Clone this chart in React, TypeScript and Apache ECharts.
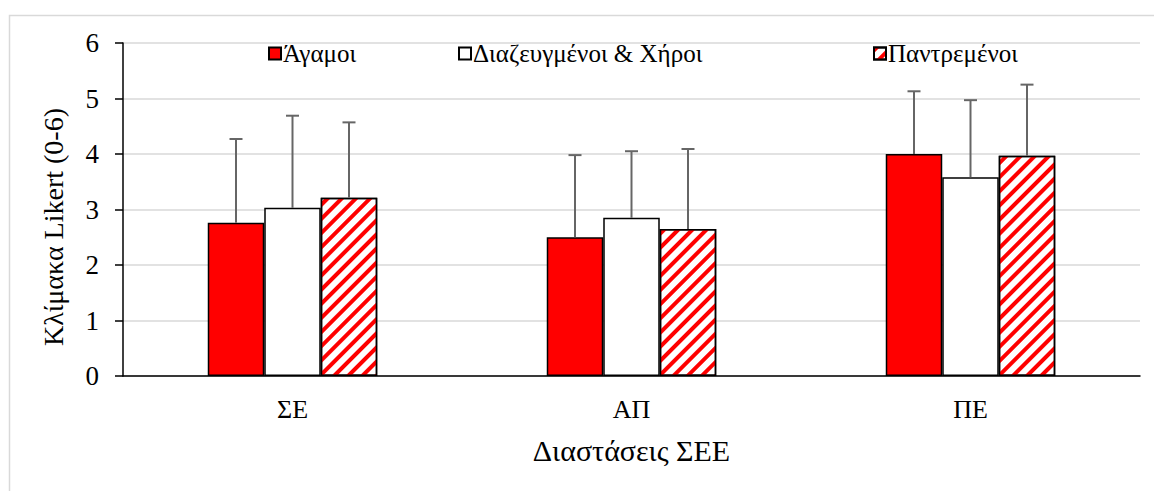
import React, { useEffect, useRef } from "react";
import * as echarts from "echarts";

const categories = ["ΣΕ", "ΑΠ", "ΠΕ"];
const seriesNames = ["Άγαμοι", "Διαζευγμένοι & Χήροι", "Παντρεμένοι"];
const agamoi = [2.76, 2.5, 4.0];
const diazeugmenoi = [3.03, 2.85, 3.58];
const pantremenoi = [3.21, 2.65, 3.97];
const sdAgamoi = [1.51, 1.48, 1.13];
const sdDiazeugmenoi = [1.66, 1.2, 1.39];
const sdPantremenoi = [1.36, 1.44, 1.28];
const yTicks = [0, 1, 2, 3, 4, 5, 6];

const FONT = "Liberation Serif";

export default function App() {
  const ref = useRef<HTMLDivElement>(null);
  useEffect(() => {
    document.body.style.margin = "0";
    const chart = echarts.init(ref.current!, null, { renderer: "svg" });
    const means = [agamoi, diazeugmenoi, pantremenoi];
    const sds = [sdAgamoi, sdDiazeugmenoi, sdPantremenoi];
    const errData: number[][] = [];
    means.forEach((arr, s) =>
      arr.forEach((m, c) => errData.push([c, s, m, sds[s][c]]))
    );
    const hatch = {
      symbol: "rect",
      symbolSize: 1,
      color: "#ff0000",
      backgroundColor: "#ffffff",
      dashArrayX: [1, 0],
      dashArrayY: [4, 6],
      rotation: -Math.PI / 4,
    };
    const styles = [
      { color: "#ff0000", borderColor: "#000", borderWidth: 1.5 },
      { color: "#ffffff", borderColor: "#000", borderWidth: 1.5 },
      { color: "#ffffff", borderColor: "#000", borderWidth: 1.5, decal: hatch },
    ];
    const legendPos = [263, 453, 868];
    chart.setOption({
      animation: false,
      textStyle: { fontFamily: FONT },
      grid: { left: 123, right: 14, top: 43, bottom: 115 },
      legend: seriesNames.map((n, i) => ({
        data: [n],
        left: legendPos[i],
        top: 36,
        itemWidth: 12,
        itemHeight: 12,
        itemGap: 5,
        icon: "rect",
        textStyle: { fontFamily: FONT, fontSize: 25, color: "#000", padding: [0, 0, 0, -3] },
      })),
      xAxis: {
        type: "category",
        data: categories,
        axisLine: { lineStyle: { color: "#000", width: 1.5 } },
        axisTick: { show: false },
        axisLabel: {
          show: true,
          color: "#000",
          margin: 20,
          fontFamily: FONT,
          fontSize: 26,
          textStyle: { fontFamily: FONT, fontSize: 26 },
        },
        name: "Διαστάσεις ΣΕΕ",
        nameLocation: "middle",
        nameGap: 59,
        nameTextStyle: { fontFamily: FONT, fontSize: 30, color: "#000" },
      },
      yAxis: {
        type: "value",
        min: yTicks[0],
        max: yTicks[yTicks.length - 1],
        interval: 1,
        axisLine: { show: true, lineStyle: { color: "#000", width: 1.5 } },
        axisTick: { show: true, inside: false, length: 8, lineStyle: { color: "#000", width: 1.5 } },
        axisLabel: { fontFamily: FONT, fontSize: 27, color: "#000", margin: 24 },
        splitLine: { lineStyle: { color: "#d9d9d9", width: 1.5 } },
      },
      graphic: [
        {
          type: "rect",
          left: 7,
          top: 13,
          shape: { width: 1170, height: 500 },
          style: { fill: "none", stroke: "#d9d9d9", lineWidth: 1.5 },
          silent: true,
        },
        {
          type: "text",
          x: 53,
          y: 227,
          rotation: Math.PI / 2,
          style: {
            text: "Κλίμακα Likert (0-6)",
            font: "28px Liberation Serif",
            fill: "#000",
            align: "center",
            verticalAlign: "middle",
          },
        },
      ],
      series: [
        ...seriesNames.map((n, i) => ({
          name: n,
          type: "bar",
          data: means[i],
          barGap: "0%",
          barCategoryGap: "50%",
          itemStyle: styles[i],
        })),
        {
          type: "custom",
          data: errData,
          z: 5,
          encode: { x: 0, y: 2 },
          renderItem: (params: any, api: any) => {
            const c = api.value(0);
            const s = api.value(1);
            const m = api.value(2);
            const sd = api.value(3);
            const band = api.size([1, 0])[0];
            const barW = (band * 0.5) / 3;
            const x = api.coord([c, 0])[0] + (s - 1) * barW;
            const yb = api.coord([c, m])[1];
            const yt = api.coord([c, m + sd])[1];
            const st = { stroke: "#666666", lineWidth: 2 };
            return {
              type: "group",
              children: [
                { type: "line", shape: { x1: x, y1: yb, x2: x, y2: yt }, style: st },
                { type: "line", shape: { x1: x - 6.5, y1: yt, x2: x + 6.5, y2: yt }, style: st },
              ],
            };
          },
        },
      ],
    });
    return () => chart.dispose();
  }, []);
  return <div ref={ref} style={{ width: 1154, height: 491 }} />;
}
